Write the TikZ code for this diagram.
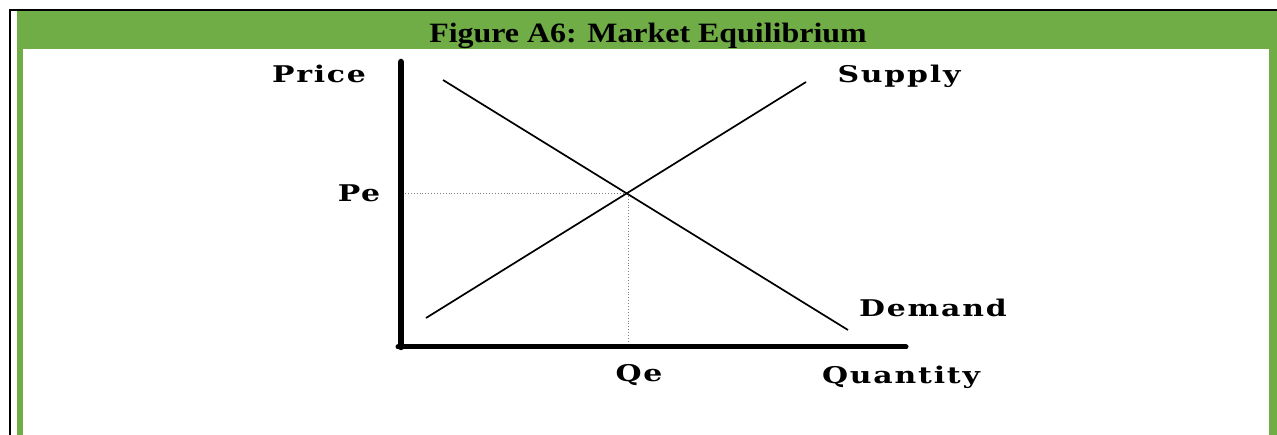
\documentclass[tikz,border=0pt]{standalone}
\usepackage{fontspec}
\setmainfont{Liberation Serif}
\newfontfamily\labfont{DejaVu Serif}[LetterSpace=6,BoldFont={DejaVu Serif Bold}]
\definecolor{frameGreen}{HTML}{70AD47}
\tikzset{
  lab/.style={font=\labfont\bfseries\fontsize{23}{27}\selectfont, anchor=base, inner sep=0pt, xscale=1.3, transform shape},
  ttl/.style={font=\bfseries\fontsize{28}{32}\selectfont, anchor=base, inner sep=0pt, xscale=1.14, transform shape},
  curve/.style={line width=1.7pt, black},
  guide/.style={line width=0.9pt, gray, dotted},
  axis/.style={black, line cap=round}
}
\begin{document}
\begin{tikzpicture}[x=1pt,y=-1pt]
\useasboundingbox (0,0) rectangle (1277,435);
% frame
\fill[frameGreen] (17,11) rectangle (1277,435);
\fill[white] (23,49) rectangle (1269,435);
\draw[line width=2pt] (9,10) -- (1277,10);
\draw[line width=2pt] (10,9) -- (10,435);
\node[ttl] (title) at (648,43) {Figure A6: Market Equilibrium};
% axes
\coordinate (ytop) at (401,62);
\coordinate (origin) at (401,347);
\coordinate (xend) at (906,347);
\coordinate (eq) at (628,193);
\coordinate (peaxis) at (405,193);
\coordinate (qeaxis) at (628,345);
\coordinate (d1) at (443,80);
\coordinate (d2) at (848,330);
\coordinate (s1) at (426,318);
\coordinate (s2) at (806,82);
\draw[guide] (peaxis) -- (eq);
\draw[guide] (eq) -- (qeaxis);
\draw[curve] (d1) -- (d2);
\draw[curve] (s1) -- (s2);
\draw[axis, line width=6.5pt] (ytop) -- (origin);
\draw[axis, line width=5pt] ([xshift=-3pt]origin) -- (xend);
% labels
\node[lab] (price) at (319,83) {Price};
\node[lab] (pe) at (359,202) {Pe};
\node[lab] (supply) at (899,83) {Supply};
\node[lab] (demand) at (933,317) {Demand};
\node[lab] (qe) at (639,382) {Qe};
\node[lab] (quantity) at (901,384) {Quantity};
\end{tikzpicture}
\end{document}
